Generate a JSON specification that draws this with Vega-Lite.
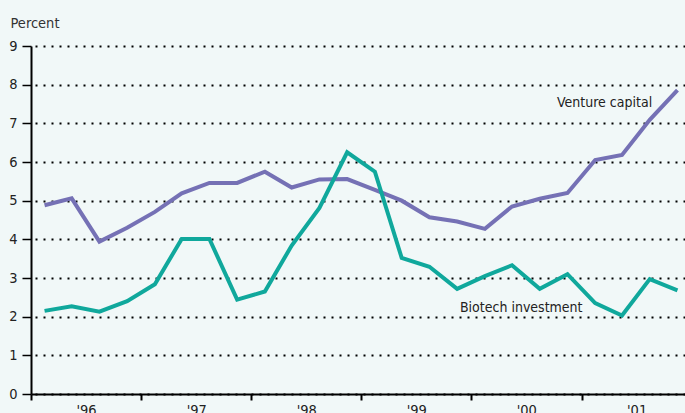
{
  "$schema": "https://vega.github.io/schema/vega-lite/v6.json",
  "width": 654,
  "height": 348,
  "autosize": {"type": "none"},
  "padding": {"left": 31, "top": 46, "right": 0, "bottom": 19},
  "background": "#f1f8f8",
  "config": {
    "view": {"stroke": null},
    "font": "DejaVu Sans Condensed, DejaVu Sans, sans-serif"
  },
  "datasets": {
    "series": [
      {"date": "1996-02-15", "series": "Venture capital", "value": 4.88},
      {"date": "1996-05-15", "series": "Venture capital", "value": 5.06},
      {"date": "1996-08-15", "series": "Venture capital", "value": 3.94},
      {"date": "1996-11-15", "series": "Venture capital", "value": 4.3},
      {"date": "1997-02-15", "series": "Venture capital", "value": 4.71},
      {"date": "1997-05-15", "series": "Venture capital", "value": 5.19},
      {"date": "1997-08-15", "series": "Venture capital", "value": 5.46},
      {"date": "1997-11-15", "series": "Venture capital", "value": 5.46},
      {"date": "1998-02-15", "series": "Venture capital", "value": 5.75},
      {"date": "1998-05-15", "series": "Venture capital", "value": 5.34},
      {"date": "1998-08-15", "series": "Venture capital", "value": 5.55},
      {"date": "1998-11-15", "series": "Venture capital", "value": 5.56},
      {"date": "1999-02-15", "series": "Venture capital", "value": 5.28},
      {"date": "1999-05-15", "series": "Venture capital", "value": 5.0},
      {"date": "1999-08-15", "series": "Venture capital", "value": 4.57},
      {"date": "1999-11-15", "series": "Venture capital", "value": 4.46},
      {"date": "2000-02-15", "series": "Venture capital", "value": 4.27},
      {"date": "2000-05-15", "series": "Venture capital", "value": 4.85},
      {"date": "2000-08-15", "series": "Venture capital", "value": 5.05},
      {"date": "2000-11-15", "series": "Venture capital", "value": 5.2},
      {"date": "2001-02-15", "series": "Venture capital", "value": 6.05},
      {"date": "2001-05-15", "series": "Venture capital", "value": 6.18},
      {"date": "2001-08-15", "series": "Venture capital", "value": 7.09},
      {"date": "2001-11-15", "series": "Venture capital", "value": 7.86},
      {"date": "1996-02-15", "series": "Biotech investment", "value": 2.15},
      {"date": "1996-05-15", "series": "Biotech investment", "value": 2.27},
      {"date": "1996-08-15", "series": "Biotech investment", "value": 2.13},
      {"date": "1996-11-15", "series": "Biotech investment", "value": 2.4},
      {"date": "1997-02-15", "series": "Biotech investment", "value": 2.84},
      {"date": "1997-05-15", "series": "Biotech investment", "value": 4.01},
      {"date": "1997-08-15", "series": "Biotech investment", "value": 4.01},
      {"date": "1997-11-15", "series": "Biotech investment", "value": 2.44},
      {"date": "1998-02-15", "series": "Biotech investment", "value": 2.65},
      {"date": "1998-05-15", "series": "Biotech investment", "value": 3.84},
      {"date": "1998-08-15", "series": "Biotech investment", "value": 4.81},
      {"date": "1998-11-15", "series": "Biotech investment", "value": 6.25},
      {"date": "1999-02-15", "series": "Biotech investment", "value": 5.75},
      {"date": "1999-05-15", "series": "Biotech investment", "value": 3.52},
      {"date": "1999-08-15", "series": "Biotech investment", "value": 3.29},
      {"date": "1999-11-15", "series": "Biotech investment", "value": 2.72},
      {"date": "2000-02-15", "series": "Biotech investment", "value": 3.05},
      {"date": "2000-05-15", "series": "Biotech investment", "value": 3.33},
      {"date": "2000-08-15", "series": "Biotech investment", "value": 2.72},
      {"date": "2000-11-15", "series": "Biotech investment", "value": 3.1},
      {"date": "2001-02-15", "series": "Biotech investment", "value": 2.35},
      {"date": "2001-05-15", "series": "Biotech investment", "value": 2.03},
      {"date": "2001-08-15", "series": "Biotech investment", "value": 2.97},
      {"date": "2001-11-15", "series": "Biotech investment", "value": 2.68}
    ],
    "labels": [
      {"date": "2001-08-23", "value": 7.42, "label": "Venture capital"},
      {"date": "2001-01-04", "value": 2.13, "label": "Biotech investment"}
    ]
  },
  "encoding": {
    "x": {
      "field": "date",
      "type": "temporal",
      "scale": {
        "type": "utc",
        "domain": [
          {"year": 1996, "month": 1, "date": 1, "utc": true},
          {"year": 2001, "month": 12, "date": 10, "utc": true}
        ]
      },
      "axis": {
        "title": null,
        "values": [
          {"year": 1996, "month": 1, "date": 1, "utc": true},
          {"year": 1997, "month": 1, "date": 1, "utc": true},
          {"year": 1998, "month": 1, "date": 1, "utc": true},
          {"year": 1999, "month": 1, "date": 1, "utc": true},
          {"year": 2000, "month": 1, "date": 1, "utc": true},
          {"year": 2001, "month": 1, "date": 1, "utc": true}
        ],
        "format": "'%y",
        "labelOffset": 55,
        "labelFlush": false,
        "labelOverlap": false,
        "labelFontSize": 14.5,
        "labelColor": "#222222",
        "labelPadding": 3,
        "tickSize": 6,
        "tickWidth": 2,
        "tickColor": "#000000",
        "domainColor": "#000000",
        "domainWidth": 2,
        "grid": false
      }
    },
    "y": {
      "field": "value",
      "type": "quantitative",
      "scale": {"domain": [0, 9], "nice": false, "zero": true},
      "axis": {
        "values": [0, 1, 2, 3, 4, 5, 6, 7, 8, 9],
        "labelOverlap": false,
        "title": "Percent",
        "titleAngle": 0,
        "titleAlign": "left",
        "titleBaseline": "alphabetic",
        "titleX": -21,
        "titleY": -19,
        "titleFontSize": 14.5,
        "titleFontWeight": "normal",
        "titleColor": "#333333",
        "labelFontSize": 14.5,
        "labelColor": "#222222",
        "labelPadding": 5,
        "tickSize": 9,
        "tickWidth": 1.5,
        "tickColor": "#000000",
        "domainColor": "#000000",
        "domainWidth": 2,
        "grid": true,
        "gridColor": "#000000",
        "gridWidth": 2,
        "gridDash": [2, 6],
        "gridDashOffset": 4
      }
    }
  },
  "layer": [
    {
      "data": {"name": "series"},
      "mark": {"type": "line", "strokeWidth": 4},
      "encoding": {
        "color": {
          "field": "series",
          "type": "nominal",
          "scale": {
            "domain": ["Venture capital", "Biotech investment"],
            "range": ["#7571b5", "#10a89c"]
          },
          "legend": null
        }
      }
    },
    {
      "data": {"name": "labels"},
      "mark": {
        "type": "text",
        "align": "right",
        "baseline": "alphabetic",
        "fontSize": 14,
        "color": "#222222"
      },
      "encoding": {
        "text": {"field": "label"}
      }
    }
  ]
}
